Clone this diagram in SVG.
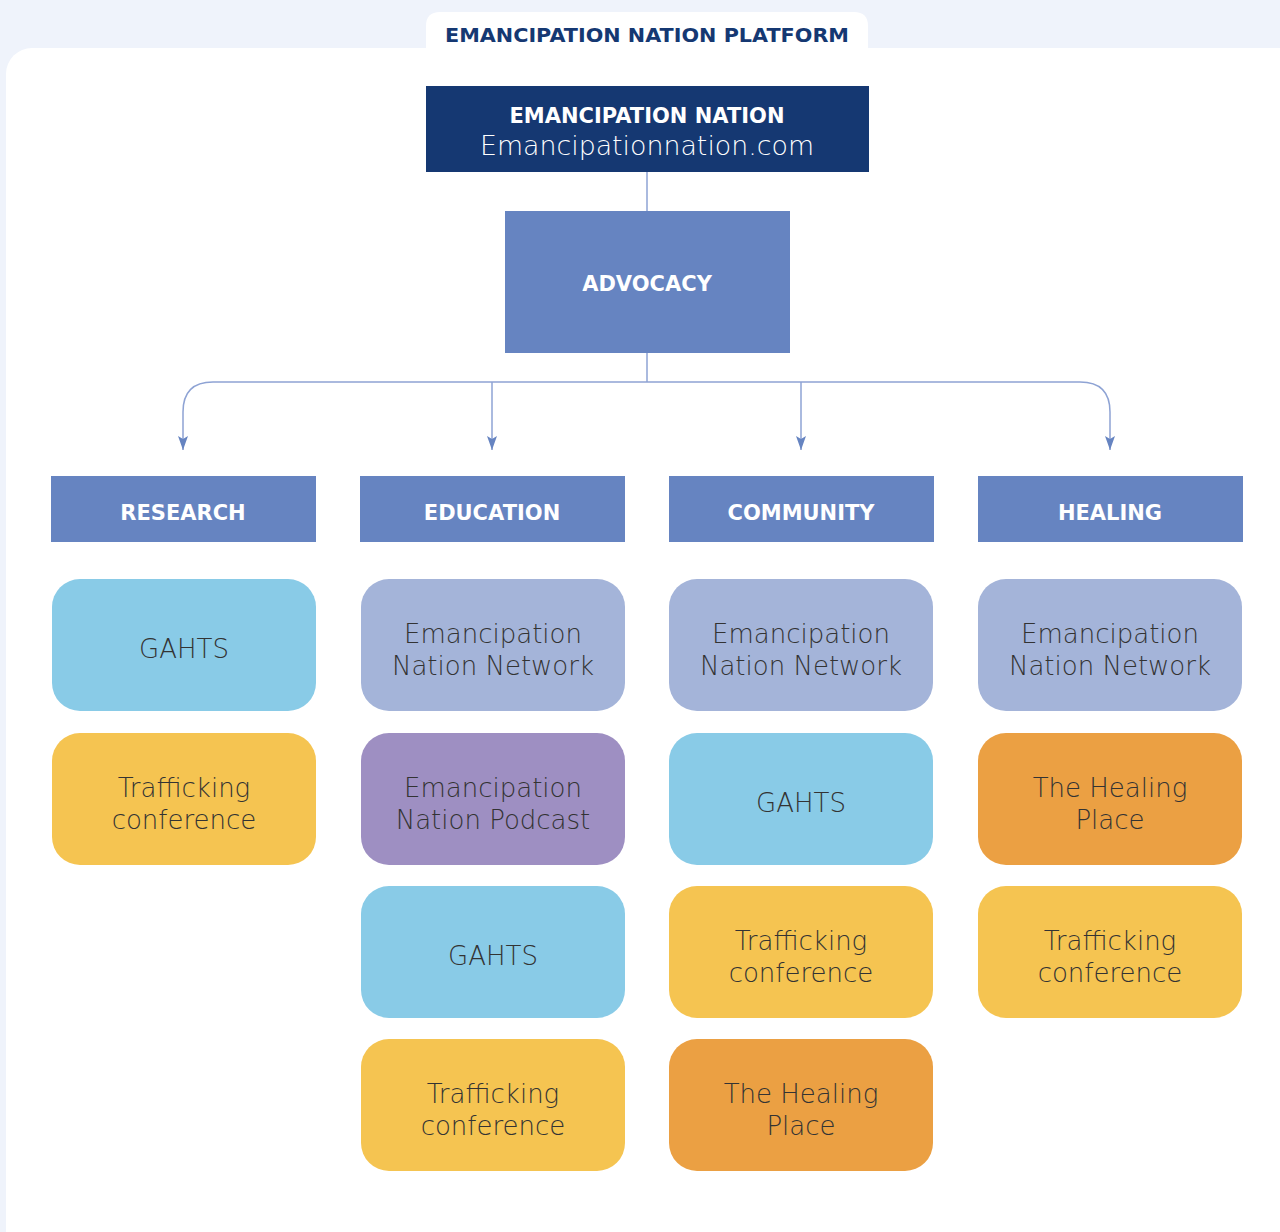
<svg xmlns="http://www.w3.org/2000/svg" width="1280" height="1232" viewBox="0 0 1280 1232">
<defs>
<marker id="arr" viewBox="0 0 14 10" refX="14" refY="5" markerWidth="14" markerHeight="10" markerUnits="userSpaceOnUse" orient="auto">
<path d="M0 0 L14 5 L0 10 L3 5 Z" fill="#6684c1"/>
</marker>
<style>
.hd{font-family:"DejaVu Sans","Liberation Sans",sans-serif;font-weight:700;font-size:21px;fill:#ffffff;text-anchor:middle}
.ct{font-family:"DejaVu Sans","Liberation Sans",sans-serif;font-weight:300;font-size:26px;fill:#333333;text-anchor:middle}
.cat{fill:#6684c1}
.blue{fill:#89cbe7}
.yel{fill:#f5c451}
.lav{fill:#a4b4d9}
.pur{fill:#9e8fc2}
.org{fill:#eba043}
.ln{fill:none;stroke:#8ea3d4;stroke-width:1.5}
</style>
</defs>
<rect x="0" y="0" width="1280" height="1232" fill="#eff3fb"/>
<rect x="6" y="48" width="1300" height="1230" rx="26" fill="#ffffff"/>
<g id="tab">
<path d="M426 48 V26 Q426 12 440 12 H854 Q868 12 868 26 V48 Z" fill="#ffffff"/>
<text x="647" y="42" font-family="DejaVu Sans, Liberation Sans, sans-serif" font-weight="700" font-size="19" fill="#153872" text-anchor="middle" textLength="404" lengthAdjust="spacingAndGlyphs">EMANCIPATION NATION PLATFORM</text>
</g>
<g id="connectors">
<path class="ln" d="M647 172 V211" stroke="#b0bdd9"/>
<path class="ln" d="M647 353 V382"/>
<path class="ln" d="M647 382 H213 Q183 382 183 412 V450" marker-end="url(#arr)"/>
<path class="ln" d="M647 382 H1080 Q1110 382 1110 412 V450" marker-end="url(#arr)"/>
<path class="ln" d="M492 382 V450" marker-end="url(#arr)"/>
<path class="ln" d="M801 382 V450" marker-end="url(#arr)"/>
</g>
<g id="node-root">
<rect x="426" y="86" width="443" height="86" fill="#153872"/>
<text class="hd" x="647" y="123">EMANCIPATION NATION</text>
<text x="647" y="155" font-family="DejaVu Sans, Liberation Sans, sans-serif" font-weight="300" font-size="26" fill="#ffffff" text-anchor="middle" textLength="334" lengthAdjust="spacingAndGlyphs">Emancipationnation.com</text>
</g>
<g id="node-advocacy">
<rect x="505" y="211" width="285" height="142" fill="#6684c1"/>
<text class="hd" x="647" y="291">ADVOCACY</text>
</g>
<g id="node-research">
<rect class="cat" x="51" y="476" width="265" height="66"/>
<text class="hd" x="183" y="520">RESEARCH</text>
</g>
<g id="node-education">
<rect class="cat" x="360" y="476" width="265" height="66"/>
<text class="hd" x="492" y="520">EDUCATION</text>
</g>
<g id="node-community">
<rect class="cat" x="669" y="476" width="265" height="66"/>
<text class="hd" x="801" y="520">COMMUNITY</text>
</g>
<g id="node-healing">
<rect class="cat" x="978" y="476" width="265" height="66"/>
<text class="hd" x="1110" y="520">HEALING</text>
</g>
<g id="r-gahts">
<rect class="blue" x="52" y="579" width="264" height="132" rx="28"/>
<text class="ct" x="184" y="658">GAHTS</text>
</g>
<g id="r-tc">
<rect class="yel" x="52" y="733" width="264" height="132" rx="28"/>
<text class="ct" x="184" y="797">Trafficking</text>
<text class="ct" x="184" y="829">conference</text>
</g>
<g id="e-enn">
<rect class="lav" x="361" y="579" width="264" height="132" rx="28"/>
<text class="ct" x="493" y="643">Emancipation</text>
<text class="ct" x="493" y="675">Nation Network</text>
</g>
<g id="e-enp">
<rect class="pur" x="361" y="733" width="264" height="132" rx="28"/>
<text class="ct" x="493" y="797">Emancipation</text>
<text class="ct" x="493" y="829">Nation Podcast</text>
</g>
<g id="e-gahts">
<rect class="blue" x="361" y="886" width="264" height="132" rx="28"/>
<text class="ct" x="493" y="965">GAHTS</text>
</g>
<g id="e-tc">
<rect class="yel" x="361" y="1039" width="264" height="132" rx="28"/>
<text class="ct" x="493" y="1103">Trafficking</text>
<text class="ct" x="493" y="1135">conference</text>
</g>
<g id="c-enn">
<rect class="lav" x="669" y="579" width="264" height="132" rx="28"/>
<text class="ct" x="801" y="643">Emancipation</text>
<text class="ct" x="801" y="675">Nation Network</text>
</g>
<g id="c-gahts">
<rect class="blue" x="669" y="733" width="264" height="132" rx="28"/>
<text class="ct" x="801" y="812">GAHTS</text>
</g>
<g id="c-tc">
<rect class="yel" x="669" y="886" width="264" height="132" rx="28"/>
<text class="ct" x="801" y="950">Trafficking</text>
<text class="ct" x="801" y="982">conference</text>
</g>
<g id="c-thp">
<rect class="org" x="669" y="1039" width="264" height="132" rx="28"/>
<text class="ct" x="801" y="1103">The Healing</text>
<text class="ct" x="801" y="1135">Place</text>
</g>
<g id="h-enn">
<rect class="lav" x="978" y="579" width="264" height="132" rx="28"/>
<text class="ct" x="1110" y="643">Emancipation</text>
<text class="ct" x="1110" y="675">Nation Network</text>
</g>
<g id="h-thp">
<rect class="org" x="978" y="733" width="264" height="132" rx="28"/>
<text class="ct" x="1110" y="797">The Healing</text>
<text class="ct" x="1110" y="829">Place</text>
</g>
<g id="h-tc">
<rect class="yel" x="978" y="886" width="264" height="132" rx="28"/>
<text class="ct" x="1110" y="950">Trafficking</text>
<text class="ct" x="1110" y="982">conference</text>
</g>
</svg>
